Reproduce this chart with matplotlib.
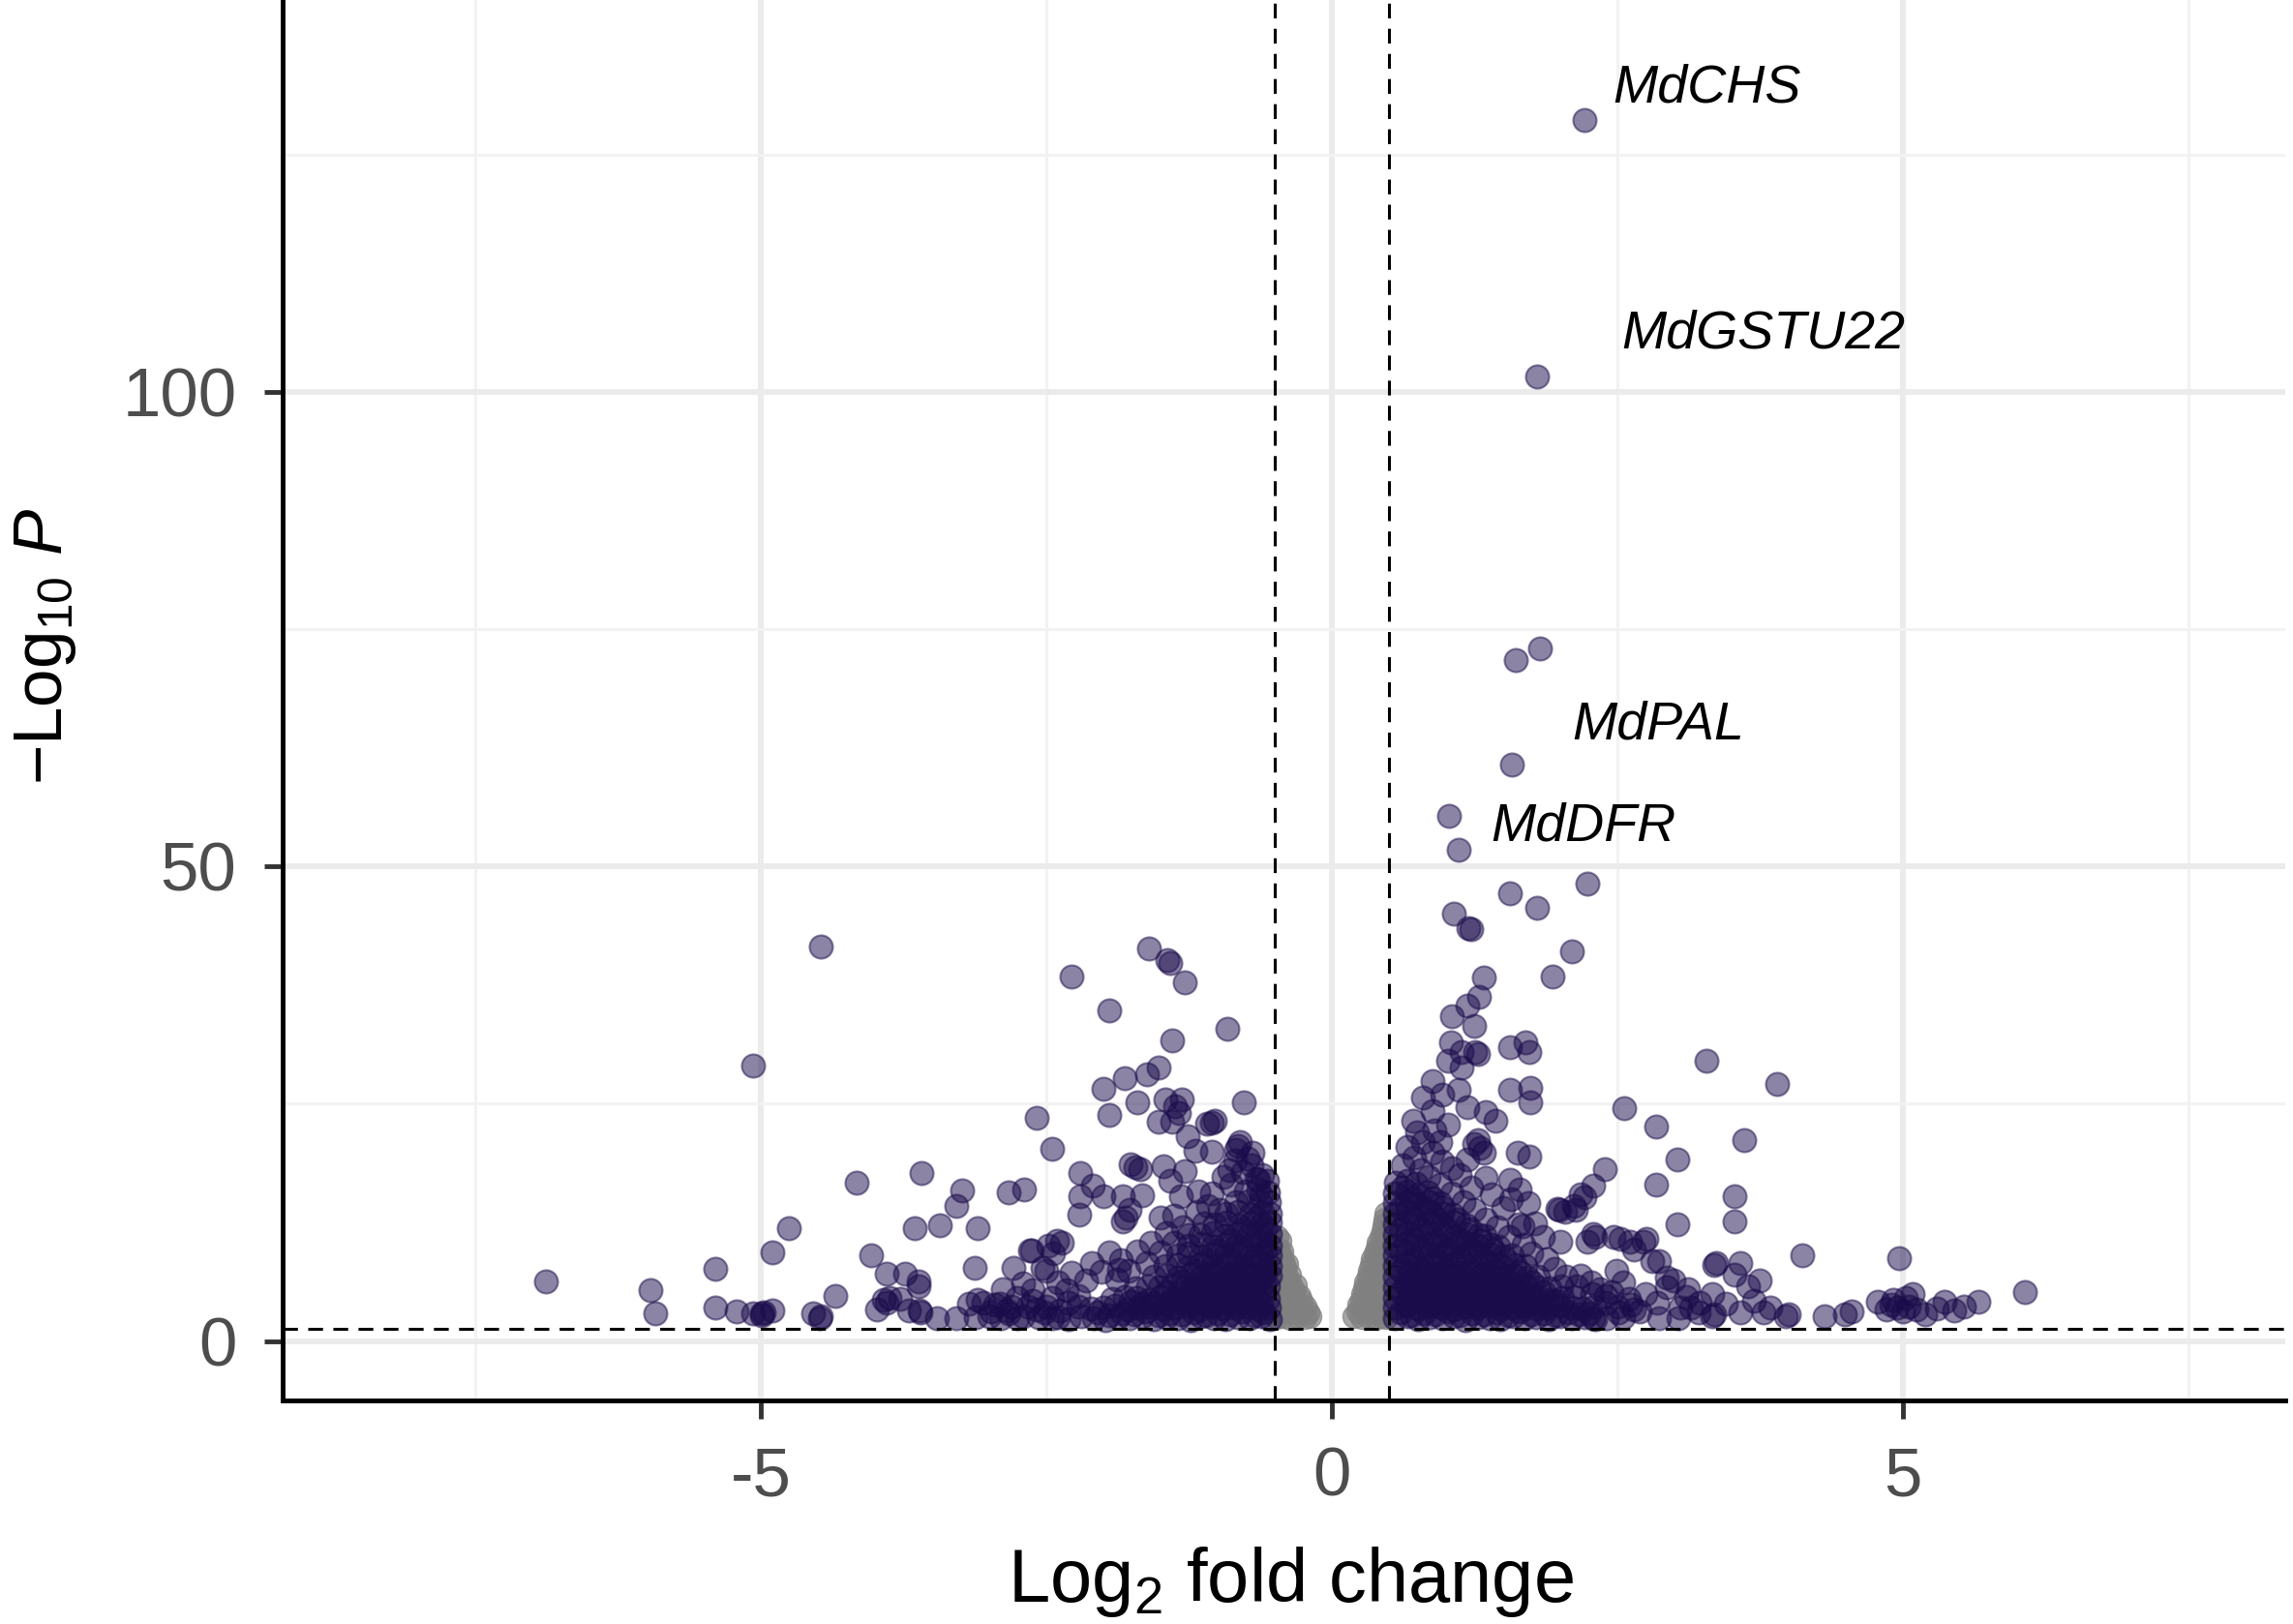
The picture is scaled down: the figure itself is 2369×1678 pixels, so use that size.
import matplotlib
matplotlib.use('Agg')
import matplotlib.pyplot as plt
import numpy as np

plt.rcParams['font.family'] = ['Liberation Sans', 'DejaVu Sans']
plt.rcParams['mathtext.fontset'] = 'custom'
plt.rcParams['mathtext.rm'] = 'Liberation Sans'
plt.rcParams['mathtext.it'] = 'Liberation Sans:italic'
plt.rcParams['mathtext.default'] = 'regular'

# ---------------- data (log2 fold change, -log10 P) ----------------
# significant, down-regulated (scattered)
down_points = [
    (-6.88, 6.3), (-5.97, 5.4), (-5.92, 2.9), (-5.40, 7.6), (-5.40, 3.5), (-5.21, 3.1),
    (-5.07, 2.9), (-4.99, 2.9), (-4.99, 2.7), (-4.97, 3.0), (-4.90, 3.2), (-5.07, 29.0),
    (-4.90, 9.3), (-4.75, 11.9), (-4.47, 41.6), (-4.35, 4.8), (-4.54, 2.9), (-4.48, 2.4),
    (-4.47, 2.6), (-4.16, 16.7), (-4.03, 9.0), (-3.98, 3.3), (-3.90, 7.1), (-3.92, 4.3),
    (-3.87, 4.6), (-3.90, 4.0), (-3.78, 4.5), (-3.74, 7.1), (-3.62, 6.3), (-3.62, 5.8),
    (-3.70, 3.2), (-3.61, 3.2), (-3.60, 3.0), (-3.46, 2.4), (-3.59, 17.7), (-3.65, 11.9),
    (-3.43, 12.2), (-3.29, 14.2), (-3.24, 15.9), (-3.10, 11.9), (-3.13, 7.7), (-3.29, 2.4),
    (-3.18, 3.9), (-3.10, 4.3), (-3.05, 4.0), (-2.83, 15.7), (-2.69, 16.0), (-2.58, 23.5),
    (-2.45, 20.3), (-2.79, 7.7), (-2.64, 9.6), (-2.70, 6.1), (-2.88, 5.5), (-2.91, 3.9),
    (-2.83, 2.9), (-2.85, 3.2), (-2.66, 3.6), (-2.58, 3.3), (-2.50, 3.6), (-2.48, 10.1),
    (-2.53, 7.7), (-2.50, 7.4), (-2.44, 9.2),
    (-1.60, 41.4), (-1.44, 40.1), (-1.41, 39.8), (-1.29, 37.8), (-2.28, 38.4), (-1.95, 34.8),
    (-0.91, 32.9), (-1.40, 31.7), (-1.52, 28.8), (-1.62, 28.1), (-1.81, 27.7), (-2.00, 26.6),
    (-1.70, 25.2), (-1.46, 25.5), (-1.31, 25.5), (-1.37, 24.7), (-0.77, 25.2), (-1.95, 23.8),
    (-1.52, 23.1), (-1.40, 23.1), (-1.34, 24.0), (-1.09, 22.9), (-1.02, 23.2), (-1.05, 23.0),
    (-1.26, 21.6), (-1.19, 20.1), (-1.05, 20.0), (-0.82, 20.6), (-0.84, 20.2), (-0.80, 21.0),
    (-0.69, 19.8), (-1.76, 18.6), (-1.68, 18.1), (-1.72, 18.3), (-2.20, 17.7), (-1.47, 18.4),
    (-1.29, 17.9), (-2.09, 16.4), (-1.41, 16.9), (-0.61, 17.5), (-0.64, 17.0), (-0.70, 18.5),
    (-0.62, 15.3), (-0.95, 17.3), (-0.88, 16.5), (-2.20, 15.3), (-2.00, 15.3), (-1.83, 15.3),
    (-1.66, 15.4), (-1.32, 15.3), (-1.17, 15.8), (-1.05, 15.6), (-2.21, 13.3), (-1.83, 12.6),
    (-1.80, 13.0), (-1.77, 13.8), (-1.50, 13.0), (-1.38, 13.2), (-2.63, 9.6), (-2.41, 10.6),
    (-2.36, 10.4), (-1.86, 7.5), (-0.74, 19.2), (-0.85, 19.0), (-0.90, 18.0), (-0.78, 17.8),
    (-3.00, 2.6), (-2.95, 3.8), (-2.75, 4.6), (-2.75, 2.4), (-2.62, 5.4), (-2.45, 4.6),
    (-2.40, 6.2), (-2.32, 5.4), (-2.28, 7.2), (-2.15, 6.4), (-2.10, 8.2), (-2.02, 7.3),
    (-1.95, 9.3), (-1.88, 6.5), (-1.85, 8.5), (-1.78, 7.4), (-1.70, 9.4), (-1.62, 8.2),
    (-1.58, 10.4), (-1.50, 9.3), (-1.45, 11.4), (-1.38, 10.4), (-1.30, 12.0), (-1.25, 11.2),
    (-1.18, 13.6), (-1.12, 12.4), (-1.08, 14.2), (-0.98, 13.8),
    (-3.12, 2.5), (-2.98, 3.1), (-2.90, 2.4), (-2.80, 3.6), (-2.70, 2.6), (-2.62, 4.2),
    (-2.57, 2.5), (-2.52, 3.0), (-2.45, 2.4), (-2.38, 3.2), (-2.30, 4.0), (-2.22, 4.8),
]

# significant, down-regulated (dense core next to the threshold)
down_dense = [
    (-2.40, 2.5), (-2.30, 2.3), (-2.19, 2.6), (-2.08, 2.4), (-1.98, 2.2), (-1.87, 2.5),
    (-1.77, 2.4), (-1.66, 2.6), (-1.56, 2.3), (-1.45, 2.5), (-1.35, 2.4), (-1.24, 2.2),
    (-1.14, 2.6), (-1.03, 2.4), (-0.93, 2.3), (-0.82, 2.5), (-0.72, 2.4), (-0.62, 2.6),
    (-0.54, 2.3),
    (-2.22, 3.6), (-2.11, 3.4), (-2.00, 3.5), (-1.90, 3.7), (-1.79, 3.3), (-1.69, 3.5),
    (-1.58, 3.6), (-1.48, 3.4), (-1.37, 3.5), (-1.27, 3.7), (-1.16, 3.3), (-1.06, 3.6),
    (-0.95, 3.4), (-0.85, 3.5), (-0.74, 3.6), (-0.64, 3.4), (-0.55, 3.5),
    (-1.92, 4.5), (-1.81, 4.7), (-1.71, 4.6), (-1.60, 4.4), (-1.50, 4.7), (-1.39, 4.5),
    (-1.29, 4.6), (-1.18, 4.8), (-1.08, 4.5), (-0.97, 4.6), (-0.87, 4.4), (-0.76, 4.7),
    (-0.66, 4.6), (-0.56, 4.5),
    (-1.72, 5.6), (-1.61, 5.8), (-1.51, 5.7), (-1.40, 5.9), (-1.30, 5.6), (-1.19, 5.7),
    (-1.09, 5.8), (-0.98, 5.6), (-0.88, 5.7), (-0.77, 5.9), (-0.67, 5.6), (-0.56, 5.8),
    (-1.56, 6.8), (-1.45, 6.9), (-1.35, 6.7), (-1.24, 7.0), (-1.14, 6.8), (-1.03, 6.9),
    (-0.93, 6.7), (-0.82, 6.8), (-0.72, 7.0), (-0.61, 6.8), (-0.54, 6.9),
    (-1.46, 7.9), (-1.35, 8.0), (-1.25, 7.8), (-1.14, 8.1), (-1.04, 7.9), (-0.93, 8.0),
    (-0.83, 7.8), (-0.72, 7.9), (-0.62, 8.1), (-0.54, 7.9),
    (-1.35, 9.0), (-1.25, 9.2), (-1.14, 8.9), (-1.04, 9.1), (-0.93, 9.0), (-0.83, 9.2),
    (-0.72, 8.9), (-0.62, 9.1), (-0.54, 9.0),
    (-1.25, 10.1), (-1.14, 10.3), (-1.04, 10.0), (-0.93, 10.2), (-0.83, 10.1), (-0.72, 10.0),
    (-0.62, 10.3), (-0.54, 10.1),
    (-1.15, 11.2), (-1.04, 11.4), (-0.94, 11.1), (-0.83, 11.3), (-0.73, 11.2), (-0.62, 11.0),
    (-0.54, 11.3),
    (-1.02, 12.3), (-0.92, 12.5), (-0.81, 12.2), (-0.71, 12.4), (-0.61, 12.3), (-0.54, 12.5),
    (-0.92, 13.4), (-0.82, 13.6), (-0.71, 13.3), (-0.61, 13.5), (-0.54, 13.4),
    (-0.84, 14.6), (-0.73, 14.8), (-0.63, 14.5), (-0.55, 14.7),
    (-0.75, 15.8), (-0.64, 16.0), (-0.56, 15.7),
    (-0.66, 17.1), (-0.57, 16.9),
    (-2.05, 3.0), (-1.84, 2.9), (-1.63, 3.1), (-1.42, 2.9), (-1.21, 3.0), (-1.00, 2.9),
    (-0.79, 3.1), (-0.60, 3.0), (-1.76, 4.1), (-1.55, 4.0), (-1.34, 4.2), (-1.13, 4.0),
    (-0.92, 4.1), (-0.71, 4.0), (-1.45, 5.2), (-1.24, 5.1), (-1.03, 5.3), (-0.82, 5.2),
    (-0.61, 5.1), (-1.30, 6.3), (-1.09, 6.2), (-0.88, 6.3), (-0.67, 6.2), (-1.19, 7.4),
    (-0.98, 7.3), (-0.77, 7.4), (-0.58, 7.3), (-1.09, 8.5), (-0.88, 8.4), (-0.67, 8.6),
    (-0.99, 9.6), (-0.78, 9.6), (-0.58, 9.5), (-0.88, 10.7), (-0.67, 10.7), (-0.77, 11.8),
    (-0.58, 11.9), (-0.66, 12.9),
    (-1.95, 2.7), (-1.73, 2.8), (-1.52, 2.7), (-1.31, 2.8), (-1.10, 2.7), (-0.89, 2.8),
    (-0.68, 2.7), (-1.66, 3.9), (-1.45, 3.8), (-1.24, 3.9), (-1.03, 3.8), (-0.82, 3.9),
    (-0.62, 3.8), (-1.34, 5.0), (-1.14, 4.9), (-0.93, 5.0), (-0.72, 4.9), (-1.20, 6.0),
    (-1.00, 6.1), (-0.79, 6.0), (-0.59, 6.1), (-1.05, 7.1), (-0.86, 7.2), (-0.66, 7.1),
]

# significant, up-regulated (scattered)
up_points = [
    (2.21, 128.7), (1.80, 101.6), (1.82, 73.0), (1.61, 71.8), (1.58, 60.7), (1.03, 55.3),
    (1.11, 51.8), (2.24, 48.2), (1.56, 47.2), (1.80, 45.6), (1.07, 45.0), (1.20, 43.5),
    (1.22, 43.4), (2.10, 41.1), (1.33, 38.3), (1.93, 38.4),
    (1.29, 36.3), (1.19, 35.4), (1.05, 34.2), (1.25, 33.2), (1.56, 31.0), (1.70, 31.5),
    (1.73, 30.5), (1.04, 31.5), (1.14, 30.5), (1.26, 30.5), (1.28, 30.3), (1.02, 29.5),
    (1.14, 28.8), (3.28, 29.5), (0.88, 27.4), (0.80, 25.7), (0.97, 26.0), (1.11, 26.5),
    (1.56, 26.5), (1.74, 26.7), (1.74, 25.2), (0.71, 23.2), (0.88, 24.2), (1.02, 22.8),
    (1.19, 24.6), (1.35, 24.1), (1.43, 23.2), (2.56, 24.5), (2.84, 22.6), (3.03, 19.1),
    (2.84, 16.5), (3.03, 12.3), (2.39, 18.1), (2.29, 16.4), (2.21, 15.2), (2.12, 14.2),
    (2.04, 13.6), (1.98, 13.9), (1.63, 19.9), (1.73, 19.4), (1.56, 17.0), (1.57, 15.0),
    (1.25, 20.8), (1.30, 20.4), (1.33, 19.8), (1.19, 19.1), (1.28, 21.2), (0.97, 18.9),
    (1.05, 18.2), (1.22, 16.2), (0.72, 19.3), (0.88, 19.9), (0.80, 21.0), (0.75, 22.0),
    (0.66, 20.5), (0.62, 18.5), (0.90, 22.2), (0.95, 21.0), (1.64, 12.3), (1.78, 12.4),
    (2.29, 11.3), (2.31, 11.0), (2.24, 10.5), (2.47, 11.0), (2.61, 10.5), (2.73, 10.5),
    (2.81, 8.4), (2.93, 6.7), (3.35, 8.0), (3.37, 8.2), (2.49, 7.4), (2.18, 6.9),
    (2.27, 6.2), (2.35, 5.5), (2.45, 5.2),
    (3.90, 27.1), (3.61, 21.2), (3.53, 15.3), (3.53, 12.6), (4.12, 9.0), (4.97, 8.7),
    (6.07, 5.2), (2.18, 15.5), (1.99, 13.8), (2.14, 13.8), (1.67, 12.1), (2.53, 10.8),
    (2.76, 10.8), (2.65, 9.7), (2.87, 8.4), (3.58, 8.2), (3.53, 7.0), (3.75, 6.4),
    (3.84, 3.5), (4.00, 2.8), (4.32, 2.6), (4.49, 2.8), (4.55, 3.1), (4.78, 4.1),
    (4.92, 4.3), (5.03, 4.6), (5.09, 5.0), (4.86, 3.3), (5.00, 3.1), (5.20, 2.8),
    (5.37, 4.1), (5.54, 3.6), (5.66, 4.1), (4.90, 3.8), (4.95, 3.5), (5.05, 3.6),
    (5.12, 3.3), (5.30, 3.4), (5.45, 3.2), (3.33, 2.6), (3.35, 2.8), (3.58, 3.0),
    (3.78, 3.0), (3.98, 2.6), (2.51, 3.0), (2.70, 3.1), (2.87, 2.4), (3.04, 2.4),
    (3.21, 3.0), (2.29, 2.4), (2.99, 6.4), (2.93, 5.7), (3.10, 4.7), (3.33, 5.0),
    (3.45, 3.9), (3.22, 4.0), (3.15, 3.5), (2.60, 4.5), (2.75, 5.0), (2.85, 4.0),
    (2.55, 6.2), (3.05, 3.5), (3.65, 5.8), (3.70, 4.2), (3.12, 5.5), (2.40, 4.0),
    (2.65, 3.3),
    (2.50, 3.6), (2.55, 2.5), (2.62, 3.8), (2.40, 4.8), (2.28, 5.0), (2.15, 5.8),
    (2.05, 6.8), (1.95, 7.6), (1.88, 8.6), (1.75, 9.2), (1.68, 10.2), (1.55, 11.0),
    (1.45, 12.0), (1.35, 12.8), (1.25, 13.8), (1.15, 14.6), (1.05, 15.6), (0.95, 16.5),
    (0.85, 17.3), (0.78, 18.0), (1.40, 15.5), (1.50, 14.0), (1.65, 16.0), (1.72, 14.5),
    (1.85, 11.0), (2.00, 10.5), (1.12, 17.5), (1.35, 17.2),
]

# significant, up-regulated (dense core next to the threshold)
up_dense = [
    (0.55, 2.4), (0.66, 2.6), (0.76, 2.3), (0.86, 2.5), (0.97, 2.4), (1.07, 2.6),
    (1.17, 2.2), (1.28, 2.5), (1.38, 2.4), (1.48, 2.3), (1.59, 2.6), (1.69, 2.4),
    (1.79, 2.5), (1.90, 2.3), (2.00, 2.6), (2.10, 2.4), (2.21, 2.5), (2.31, 2.3),
    (2.41, 2.4),
    (0.55, 3.5), (0.65, 3.7), (0.76, 3.4), (0.86, 3.6), (0.96, 3.5), (1.07, 3.3),
    (1.17, 3.6), (1.27, 3.5), (1.38, 3.7), (1.48, 3.4), (1.58, 3.5), (1.69, 3.6),
    (1.79, 3.4), (1.89, 3.5), (2.00, 3.7), (2.10, 3.5), (2.20, 3.4), (2.30, 3.6),
    (0.55, 4.6), (0.66, 4.5), (0.76, 4.7), (0.87, 4.6), (0.97, 4.4), (1.08, 4.7),
    (1.18, 4.6), (1.29, 4.5), (1.39, 4.8), (1.50, 4.6), (1.60, 4.5), (1.71, 4.7),
    (1.81, 4.6), (1.92, 4.4), (2.02, 4.6), (2.12, 4.7),
    (0.55, 5.7), (0.65, 5.9), (0.76, 5.6), (0.86, 5.8), (0.97, 5.7), (1.07, 5.6),
    (1.18, 5.9), (1.28, 5.7), (1.39, 5.8), (1.49, 5.6), (1.60, 5.7), (1.70, 5.9),
    (1.81, 5.7), (1.91, 5.6), (2.01, 5.8),
    (0.55, 6.8), (0.66, 6.9), (0.76, 6.7), (0.87, 7.0), (0.97, 6.8), (1.08, 6.9),
    (1.18, 6.7), (1.29, 6.8), (1.39, 7.0), (1.50, 6.8), (1.60, 6.9), (1.71, 6.7),
    (1.81, 6.8),
    (0.55, 7.9), (0.65, 8.1), (0.76, 7.8), (0.86, 8.0), (0.97, 7.9), (1.07, 8.1),
    (1.18, 7.8), (1.28, 7.9), (1.39, 8.0), (1.49, 7.8), (1.60, 8.0), (1.70, 7.9),
    (0.55, 9.0), (0.66, 9.2), (0.76, 8.9), (0.87, 9.1), (0.97, 9.0), (1.08, 8.9),
    (1.18, 9.2), (1.29, 9.0), (1.39, 9.1), (1.50, 8.9), (1.58, 9.0),
    (0.55, 10.1), (0.65, 10.3), (0.76, 10.0), (0.86, 10.2), (0.97, 10.1), (1.07, 10.0),
    (1.18, 10.3), (1.28, 10.1), (1.39, 10.2), (1.46, 10.0),
    (0.55, 11.2), (0.66, 11.4), (0.76, 11.1), (0.87, 11.3), (0.97, 11.2), (1.08, 11.0),
    (1.18, 11.3), (1.29, 11.2), (1.34, 11.1),
    (0.55, 12.3), (0.65, 12.5), (0.76, 12.2), (0.86, 12.4), (0.97, 12.3), (1.07, 12.5),
    (1.18, 12.2),
    (0.55, 13.4), (0.66, 13.6), (0.76, 13.3), (0.87, 13.5), (0.97, 13.4), (1.06, 13.3),
    (0.55, 14.5), (0.65, 14.7), (0.76, 14.4), (0.86, 14.6), (0.95, 14.5),
    (0.55, 15.6), (0.66, 15.8), (0.76, 15.5), (0.84, 15.7),
    (0.56, 16.7), (0.66, 16.9), (0.74, 16.6),
    (0.60, 3.0), (0.81, 2.9), (1.02, 3.1), (1.23, 2.9), (1.44, 3.0), (1.65, 3.1),
    (1.86, 2.9), (2.07, 3.0), (2.26, 2.9), (0.71, 4.1), (0.92, 4.0), (1.13, 4.2),
    (1.34, 4.0), (1.55, 4.1), (1.76, 4.0), (1.97, 4.2), (0.60, 5.2), (0.81, 5.1),
    (1.02, 5.2), (1.23, 5.0), (1.44, 5.2), (1.65, 5.1), (1.86, 5.2), (0.71, 6.3),
    (0.92, 6.2), (1.13, 6.3), (1.34, 6.2), (1.55, 6.3), (1.76, 6.2), (0.60, 7.4),
    (0.81, 7.3), (1.02, 7.4), (1.23, 7.3), (1.44, 7.4), (1.65, 7.3), (0.71, 8.5),
    (0.92, 8.4), (1.13, 8.6), (1.34, 8.5), (1.53, 8.4), (0.60, 9.6), (0.81, 9.5),
    (1.02, 9.6), (1.23, 9.5), (1.42, 9.6), (0.71, 10.7), (0.92, 10.6), (1.13, 10.7),
    (1.31, 10.6), (0.60, 11.8), (0.81, 11.8), (1.02, 11.7), (1.21, 11.8), (0.71, 12.9),
    (0.92, 12.9), (1.10, 12.8), (0.60, 14.0), (0.81, 14.0), (0.98, 14.0), (0.71, 15.1),
    (0.88, 15.1), (0.62, 16.2),
    (0.70, 2.7), (0.91, 2.8), (1.12, 2.7), (1.33, 2.8), (1.54, 2.7), (1.75, 2.8),
    (1.96, 2.7), (2.16, 2.8), (0.65, 3.9), (0.86, 3.8), (1.07, 3.9), (1.28, 3.8),
    (1.49, 3.9), (1.70, 3.8), (1.90, 3.9), (0.70, 5.0), (0.91, 4.9), (1.12, 5.0),
    (1.33, 4.9), (1.54, 5.0), (1.75, 4.9), (0.65, 6.1), (0.86, 6.0), (1.07, 6.1),
    (1.28, 6.0), (1.49, 6.1), (0.70, 7.2), (0.91, 7.1), (1.12, 7.2), (1.33, 7.1),
]

# not significant (|log2FC| < 0.5)
ns_points = [
    (-0.48, 2.5), (-0.42, 2.6), (-0.36, 2.4), (-0.30, 2.6), (-0.24, 2.5), (-0.19, 2.6),
    (-0.48, 3.8), (-0.42, 3.7), (-0.36, 3.9), (-0.30, 3.8), (-0.24, 3.6),
    (-0.48, 5.0), (-0.42, 4.9), (-0.36, 5.1), (-0.29, 4.8),
    (-0.48, 6.2), (-0.42, 6.1), (-0.36, 6.0), (-0.32, 5.9),
    (-0.48, 7.4), (-0.42, 7.3), (-0.37, 7.0),
    (-0.48, 8.6), (-0.43, 8.5), (-0.40, 8.1),
    (-0.48, 9.8), (-0.44, 9.4), (-0.48, 11.0), (-0.46, 10.6),
    (-0.45, 3.1), (-0.39, 3.2), (-0.33, 3.1), (-0.27, 3.1), (-0.21, 3.0),
    (-0.45, 4.4), (-0.39, 4.4), (-0.33, 4.3), (-0.27, 4.2),
    (-0.45, 5.6), (-0.39, 5.5), (-0.34, 5.4), (-0.45, 6.8), (-0.39, 6.6),
    (-0.45, 8.0), (-0.41, 7.8), (-0.46, 9.2),
    (0.20, 2.6), (0.26, 2.5), (0.32, 2.6), (0.38, 2.4), (0.44, 2.6), (0.48, 2.5),
    (0.24, 3.8), (0.30, 3.7), (0.36, 3.9), (0.42, 3.8), (0.48, 3.7),
    (0.27, 5.0), (0.33, 4.9), (0.39, 5.1), (0.45, 5.0),
    (0.30, 6.2), (0.36, 6.1), (0.42, 6.3), (0.48, 6.2),
    (0.33, 7.4), (0.39, 7.3), (0.45, 7.5),
    (0.36, 8.6), (0.42, 8.5), (0.48, 8.7),
    (0.40, 9.8), (0.46, 9.9), (0.43, 11.0), (0.48, 11.1),
    (0.46, 12.2), (0.48, 13.4),
    (0.23, 3.1), (0.29, 3.2), (0.35, 3.1), (0.41, 3.2), (0.47, 3.1),
    (0.26, 4.4), (0.32, 4.3), (0.38, 4.4), (0.44, 4.3),
    (0.29, 5.6), (0.35, 5.5), (0.41, 5.6), (0.47, 5.6),
    (0.32, 6.8), (0.38, 6.8), (0.44, 6.9), (0.35, 8.0), (0.41, 7.9), (0.47, 8.0),
    (0.38, 9.2), (0.44, 9.2), (0.41, 10.4), (0.47, 10.4), (0.45, 11.6), (0.47, 12.8),
]

# labelled genes
gene_names = ['MdCHS', 'MdGSTU22', 'MdPAL', 'MdDFR']
gene_fc = [2.21, 1.80, 1.58, 1.03]
gene_logp = [128.7, 101.6, 60.7, 55.3]

fc_cutoff = 0.5
p_cutoff = 0.05

x_ticks = [-5, 0, 5]
x_ticklabels = ['-5', '0', '5']
y_ticks = [0, 50, 100]
y_ticklabels = ['0', '50', '100']

# ---------------- plot ----------------
fig = plt.figure(figsize=(23.69, 16.78), dpi=100)
ax = fig.add_axes([0.1231, 0.1374, 0.8735, 0.8626])

ax.set_xlim(-9.19, 8.35)
ax.set_ylim(-6.3, 141.3)

ax.set_xticks(x_ticks)
ax.set_xticklabels(x_ticklabels)
ax.set_yticks(y_ticks)
ax.set_yticklabels(y_ticklabels)
ax.set_xticks([-7.5, -2.5, 2.5, 7.5], minor=True)
ax.set_yticks([25, 75, 125], minor=True)
ax.set_axisbelow(True)
ax.grid(which='major', color='#EBEBEB', lw=4.3)
ax.grid(which='minor', color='#F2F2F2', lw=2.2)

purple = '#1a0b4b'
pt_size = 300

ns = np.array(ns_points)
ax.scatter(ns[:, 0], ns[:, 1], s=pt_size, c='#808080', alpha=0.7,
           edgecolors='#808080', linewidths=1.0, zorder=2)

for grp in (down_dense, down_points, up_dense, up_points):
    a = np.array(grp)
    ax.scatter(a[:, 0], a[:, 1], s=pt_size, c=purple, alpha=0.5,
               edgecolors=purple, linewidths=1.5, zorder=3)

dash = (0, (5, 3.5))
ax.axvline(-fc_cutoff, color='black', ls=dash, lw=2.2, zorder=5)
ax.axvline(fc_cutoff, color='black', ls=dash, lw=2.2, zorder=5)
ax.axhline(-np.log10(p_cutoff), color='black', ls=dash, lw=2.2, zorder=5)

label_pos = [(2.46, 132.0), (2.54, 106.1), (2.11, 64.9), (1.39, 54.2)]
for name, (lx, ly) in zip(gene_names, label_pos):
    ax.text(lx, ly, name, style='italic', fontsize=40, ha='left', va='center',
            color='black', zorder=6)

for s in ('top', 'right'):
    ax.spines[s].set_visible(False)
for s in ('left', 'bottom'):
    ax.spines[s].set_linewidth(3.5)
    ax.spines[s].set_color('black')

ax.tick_params(which='major', length=14, width=3.5, color='#333333',
               labelsize=51, labelcolor='#4D4D4D', pad=20)
ax.tick_params(which='minor', length=0)

fig.text(0.563, 0.026, r'Log$_2$ fold change', fontsize=56, ha='center', va='center')
fig.text(0.020, 0.602, r'$-$Log$_{10}$ $\mathit{P}$', fontsize=51, ha='center',
         va='center', rotation=90)

fig.savefig('out.png', dpi=100)
